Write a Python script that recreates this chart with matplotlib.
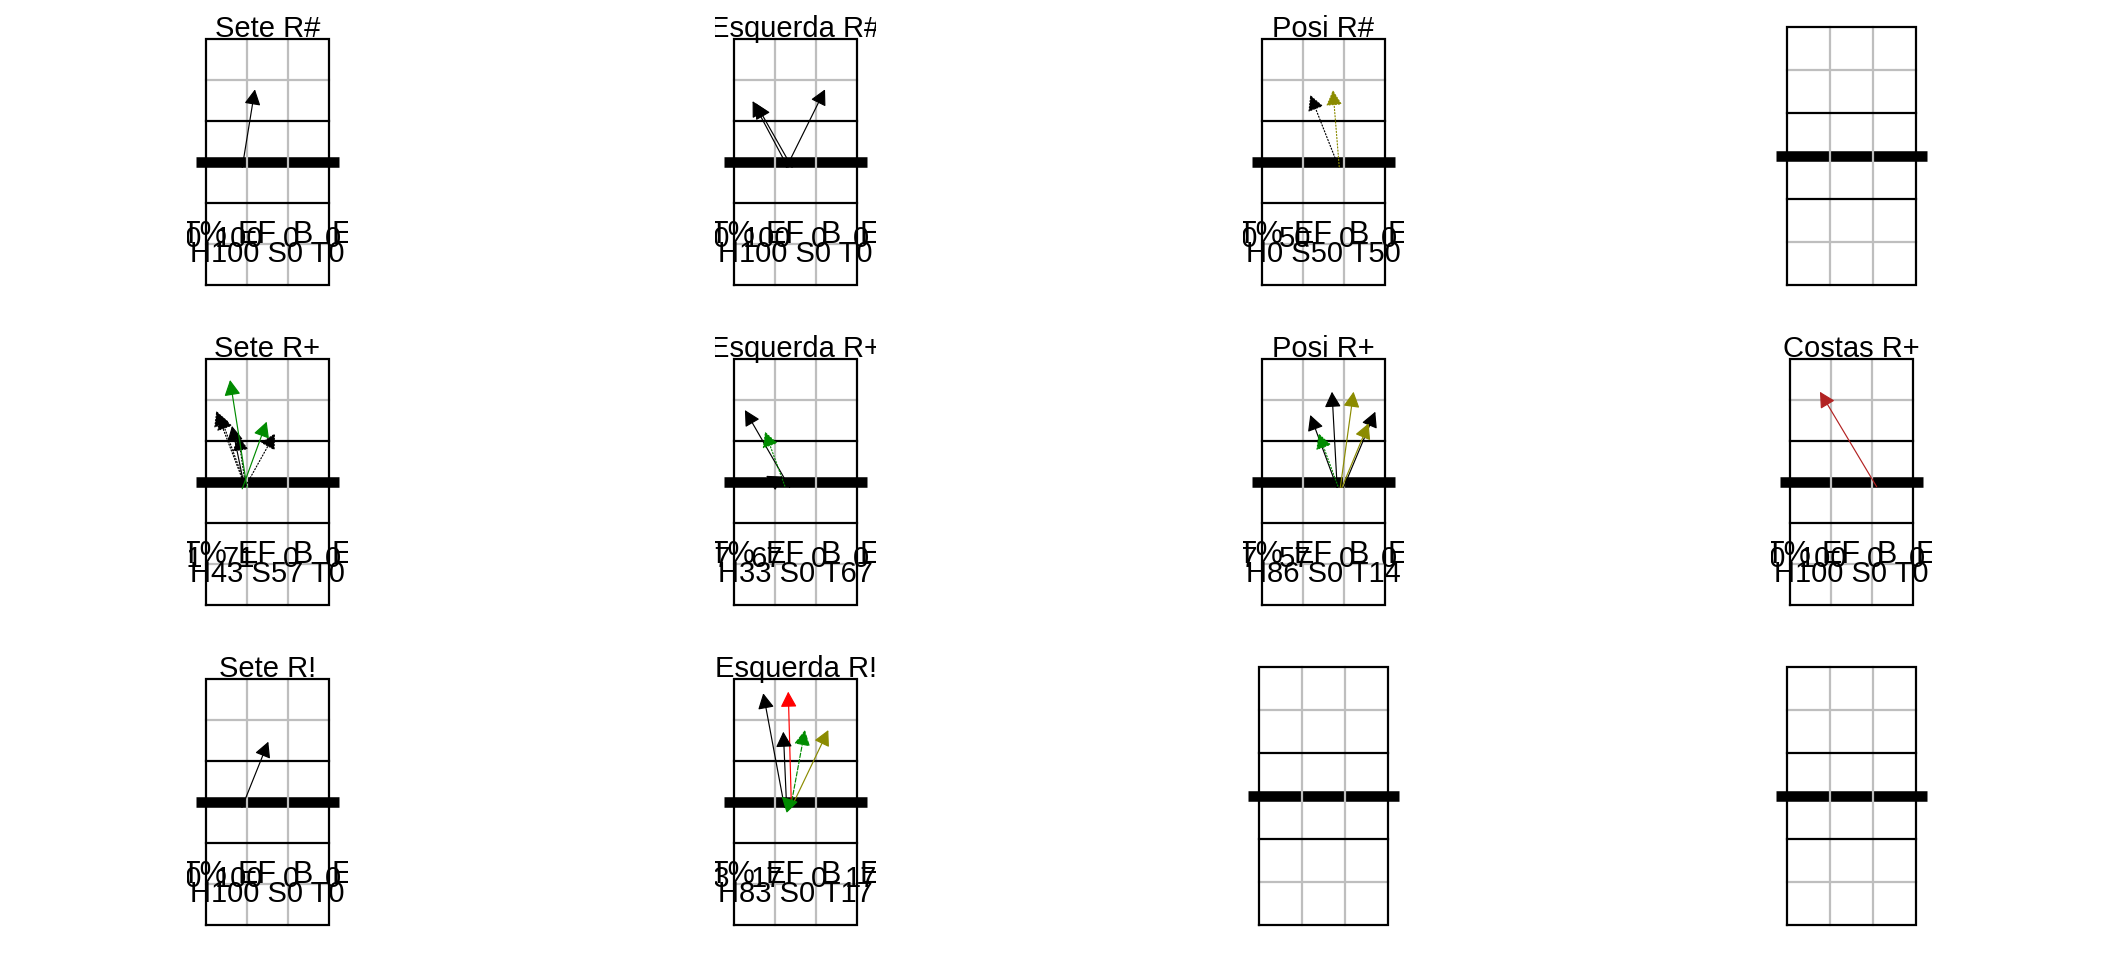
import matplotlib.pyplot as plt
from matplotlib.patches import FancyArrowPatch

plt.rcParams['font.family'] = ['Liberation Sans', 'DejaVu Sans']

# panels, row by row (None = empty court)
titles = ["Sete R#", "Esquerda R#", "Posi R#", None,
          "Sete R+", "Esquerda R+", "Posi R+", "Costas R+",
          "Sete R!", "Esquerda R!", None, None]

stat_line = ["H100 S0 T0", "H100 S0 T0", "H0 S50 T50", None,
             "H43 S57 T0", "H33 S0 T67", "H86 S0 T14", "H100 S0 T0",
             "H100 S0 T0", "H83 S0 T17", None, None]

pct_values = [["100", "100", "0", "0"], ["100", "100", "0", "0"], ["50", "50", "0", "0"], None,
              ["71", "71", "0", "0"], ["67", "67", "0", "0"], ["57", "57", "0", "0"], ["100", "100", "0", "0"],
              ["100", "100", "0", "0"], ["33", "17", "0", "17"], None, None]

headers = ["T%", "EF", "B", "E"]

# attacks: start x, start y, end x, end y (metres), outcome code, line code
attacks = [
    [(2.65, 8.6, 3.58, 14.31, 'k', 's')],
    [(3.95, 8.6, 1.36, 13.45, 'k', 's'), (4.25, 8.6, 1.58, 13.3, 'k', 's'),
     (3.83, 8.6, 6.66, 14.31, 'k', 's')],
    [(5.6, 8.65, 3.53, 13.9, 'k', 'd'), (5.65, 8.65, 5.19, 14.26, 'o', 'd')],
    [],
    [(2.85, 8.7, 0.75, 14.2, 'k', 'd'), (2.9, 8.7, 1.0, 13.95, 'k', 'd'),
     (2.8, 8.7, 1.9, 13.1, 'k', 's'), (2.9, 8.7, 2.36, 12.4, 'k', 'd'),
     (3.0, 8.6, 1.76, 16.46, 'g', 's'), (2.65, 8.5, 4.44, 13.41, 'g', 's'),
     (2.9, 8.7, 5.05, 12.56, 'k', 'd')],
    [(4.07, 8.6, 0.8, 14.26, 'k', 's'), (3.72, 8.7, 2.27, 12.68, 'g', 'd'),
     (3.3, 8.9, 2.35, 9.45, 'k', 's')],
    [(5.49, 8.6, 3.53, 13.9, 'k', 's'), (5.5, 8.6, 5.12, 15.6, 'k', 's'),
     (5.73, 8.6, 6.7, 15.6, 'o', 's'), (5.97, 8.6, 8.29, 14.14, 'k', 's'),
     (5.85, 8.6, 7.8, 13.29, 'o', 's'), (5.55, 8.7, 4.14, 12.56, 'g', 'd')],
    [(6.34, 8.65, 2.19, 15.6, 'f', 's')],
    [(2.63, 8.6, 4.56, 13.41, 'k', 's')],
    [(3.7, 8.6, 2.14, 16.95, 'k', 's'), (4.2, 8.65, 3.97, 17.07, 'r', 's'),
     (3.85, 8.65, 3.61, 14.14, 'k', 's'), (4.15, 8.65, 5.19, 14.26, 'g', 'a'),
     (4.22, 8.65, 6.9, 14.26, 'o', 's'), (4.22, 8.65, 3.49, 9.39, 'g', 's')],
    [],
    [],
]

colours = {'k': 'black', 'g': '#008B00', 'o': '#8B8B00', 'r': '#FF0000', 'f': '#B22222'}
styles = {'s': '-', 'd': ':', 'a': '--'}

W, H = 2112, 960
fig = plt.figure(figsize=(W / 100, H / 100), dpi=100)

head_x = [-0.1, 3.7, 7.1, 9.95]
val_x = [-0.25, 2.4, 6.2, 9.3]

for i, title in enumerate(titles):
    r, c = divmod(i, 4)
    cx = 267.5 + 528 * c          # court centre, px
    bottom = 285 + 320 * r        # court baseline, px
    top = 320 * r + 4
    s = 13.67 if title else 14.33  # px per metre
    x0 = cx - 5.9 * s
    x1 = cx + 5.9 * s
    y1 = bottom + 8
    ax = fig.add_axes([x0 / W, (H - y1) / H, (x1 - x0) / W, (y1 - top) / H])
    ax.set_xlim(-1.4, 10.4)
    ax.set_ylim(-8 / s, (bottom - top) / s)
    ax.axis('off')

    # net, grid, lines
    ax.plot([-0.75, 9.75], [9, 9], color='black', lw=7.6, solid_capstyle='butt', zorder=1)
    for gx in (3, 6):
        ax.plot([gx, gx], [0, 18], color='#BEBEBE', lw=1.6, zorder=2)
    for gy in (3, 15):
        ax.plot([0, 9], [gy, gy], color='#BEBEBE', lw=1.6, zorder=2)
    for gy in (6, 12):
        ax.plot([0, 9], [gy, gy], color='black', lw=1.6, zorder=3)
    ax.plot([0, 9, 9, 0, 0], [0, 0, 18, 18, 0], color='black', lw=1.6, zorder=3,
            solid_joinstyle='miter')

    if title is None:
        continue

    for sx, sy, ex, ey, oc, lc in attacks[i]:
        arr = FancyArrowPatch((sx, sy), (ex, ey), arrowstyle='-|>,head_length=0.95,head_width=0.5',
                              mutation_scale=10, color=colours[oc], linestyle=styles[lc],
                              lw=0.85, shrinkA=0, shrinkB=0, zorder=4)
        ax.add_patch(arr)

    ax.text(4.5, 18.12, title, ha='center', va='baseline', fontsize=21, clip_on=True, zorder=5)
    for hx, lab in zip(head_x, headers):
        ax.text(hx, 3.05, lab, ha='center', va='baseline', fontsize=22, clip_on=True, zorder=5)
    v = pct_values[i]
    ax.text(val_x[0], 2.8, v[0], ha='right', va='baseline', fontsize=21, clip_on=True, zorder=5)
    for vx, val in zip(val_x[1:], v[1:]):
        ax.text(vx, 2.8, val, ha='center', va='baseline', fontsize=21, clip_on=True, zorder=5)
    ax.text(4.5, 1.68, stat_line[i], ha='center', va='baseline', fontsize=21, clip_on=True, zorder=5)

fig.savefig('out.png', dpi=100)
